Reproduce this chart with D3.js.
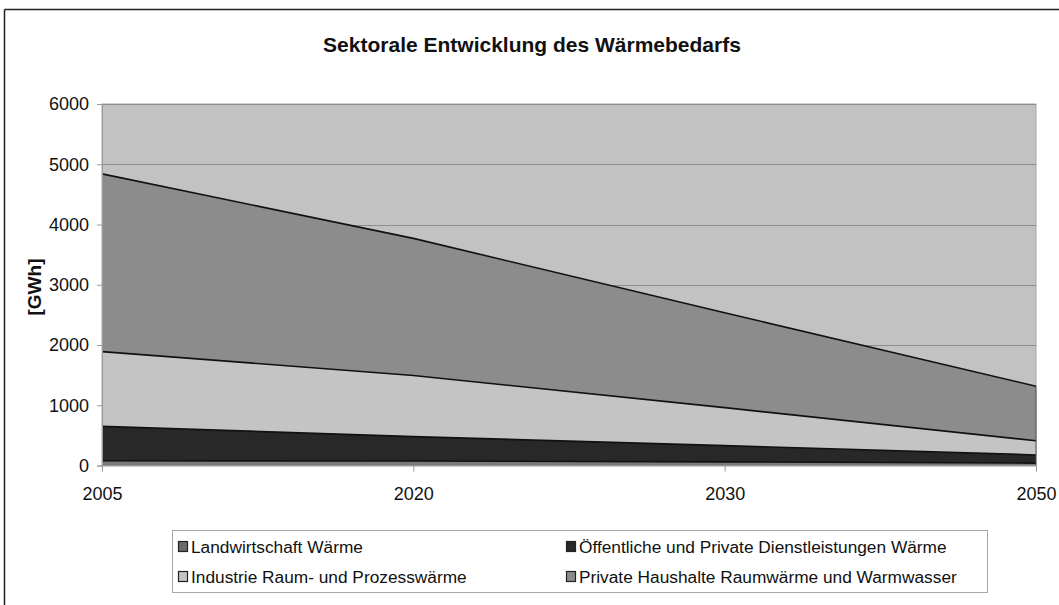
<!DOCTYPE html>
<html>
<head>
<meta charset="utf-8">
<script src="https://cdn.jsdelivr.net/npm/d3@7"></script>
<style>
  html, body { margin: 0; padding: 0; background: #fff; }
  svg { display: block; font-family: "Liberation Sans", Arial, sans-serif; }
</style>
</head>
<body>
<svg id="chart" width="1059" height="605"></svg>
<script>
// Years shown on the category axis
const years = ["2005", "2020", "2030", "2050"];
// Heat demand per sector in GWh (stacked bottom to top)
const landwirtschaft = [80, 75, 60, 40];
const dienstleistungen = [570, 405, 270, 135];
const industrie = [1240, 1015, 630, 235];
const haushalte = [2950, 2275, 1575, 905];
const yTicks = [0, 1000, 2000, 3000, 4000, 5000, 6000];

const seriesNames = [
  "Landwirtschaft Wärme",
  "Öffentliche und Private Dienstleistungen Wärme",
  "Industrie Raum- und Prozesswärme",
  "Private Haushalte Raumwärme und Warmwasser"
];
const fills = ["#7a7a7a", "#282828", "#c4c4c4", "#8c8c8c"];
const swatchFills = ["#6a6a6a", "#282828", "#c4c4c4", "#8c8c8c"];

const rows = years.map((yr, i) => ({
  year: yr,
  s0: landwirtschaft[i],
  s1: dienstleistungen[i],
  s2: industrie[i],
  s3: haushalte[i]
}));
const keys = ["s0", "s1", "s2", "s3"];
const stacked = d3.stack().keys(keys)(rows);

const svg = d3.select("#chart");

// outer frame (top and left edges)
svg.append("line").attr("x1", 4.5).attr("x2", 1059).attr("y1", 9.5).attr("y2", 9.5)
  .attr("stroke", "#222").attr("stroke-width", 1.5);
svg.append("line").attr("x1", 4.5).attr("x2", 4.5).attr("y1", 9.5).attr("y2", 605)
  .attr("stroke", "#222").attr("stroke-width", 1.5);

const plotLeft = 102, plotRight = 1036, plotTop = 104, plotBottom = 465.5;

const x = d3.scalePoint().domain(years).range([plotLeft, plotRight]);
const y = d3.scaleLinear().domain([0, 6000]).range([plotBottom, plotTop]);

// title
svg.append("text")
  .attr("x", 532).attr("y", 52)
  .attr("text-anchor", "middle")
  .attr("font-size", 21).attr("font-weight", "bold")
  .attr("fill", "#111")
  .text("Sektorale Entwicklung des Wärmebedarfs");

// plot background
svg.append("rect")
  .attr("x", plotLeft).attr("y", plotTop)
  .attr("width", plotRight - plotLeft).attr("height", plotBottom - plotTop)
  .attr("fill", "#c2c2c2")
  .attr("stroke", "#a8a8a8").attr("stroke-width", 1);

// gridlines
svg.append("g")
  .selectAll("line")
  .data(yTicks.filter(t => t > 0))
  .join("line")
  .attr("x1", plotLeft).attr("x2", plotRight)
  .attr("y1", d => Math.round(y(d)) + 0.5).attr("y2", d => Math.round(y(d)) + 0.5)
  .attr("stroke", "#8e8e8e").attr("stroke-width", 1);

// stacked areas
const area = d3.area()
  .x(d => x(d.data.year))
  .y0(d => y(d[0]))
  .y1(d => y(d[1]));
const topLine = d3.line()
  .x(d => x(d.data.year))
  .y(d => y(d[1]));

svg.append("g")
  .selectAll("path")
  .data(stacked)
  .join("path")
  .attr("d", area)
  .attr("fill", (d, i) => fills[i]);

svg.append("g")
  .selectAll("path")
  .data(stacked)
  .join("path")
  .attr("d", topLine)
  .attr("fill", "none")
  .attr("stroke", "#111")
  .attr("stroke-width", 1.6);

// right edge of the areas
svg.append("line")
  .attr("x1", plotRight).attr("x2", plotRight)
  .attr("y1", y(stacked[3][3][1])).attr("y2", plotBottom)
  .attr("stroke", "#555").attr("stroke-width", 1);

// y axis
const yAxis = d3.axisLeft(y).tickValues(yTicks).tickSize(5).tickPadding(8).tickFormat(d3.format("d"));
const gy = svg.append("g").attr("transform", `translate(${plotLeft},0)`).call(yAxis);
gy.select(".domain").attr("stroke", "#9a9a9a");
gy.selectAll(".tick line").attr("stroke", "#9a9a9a");
gy.selectAll(".tick text").attr("font-size", 18).attr("fill", "#111")
  .attr("font-family", "'Liberation Sans', Arial, sans-serif");

// x axis
const xAxis = d3.axisBottom(x).tickSize(6).tickPadding(16);
const gx = svg.append("g").attr("transform", `translate(0,${plotBottom})`).call(xAxis);
gx.select(".domain").attr("stroke", "#9a9a9a");
gx.selectAll(".tick line").attr("stroke", "#9a9a9a");
gx.selectAll(".tick text").attr("font-size", 18).attr("fill", "#111")
  .attr("font-family", "'Liberation Sans', Arial, sans-serif");

// y axis label
svg.append("text")
  .attr("transform", "translate(41,287) rotate(-90)")
  .attr("text-anchor", "middle")
  .attr("font-size", 19).attr("font-weight", "bold")
  .attr("fill", "#111")
  .text("[GWh]");

// legend
const legend = svg.append("g");
legend.append("rect")
  .attr("x", 172.5).attr("y", 530.5)
  .attr("width", 815).attr("height", 62)
  .attr("fill", "#fff").attr("stroke", "#a8a8a8");

const legendPos = [
  { x: 178, y: 547 },
  { x: 566, y: 547 },
  { x: 178, y: 577 },
  { x: 566, y: 577 }
];
seriesNames.forEach((name, i) => {
  const p = legendPos[i];
  legend.append("rect")
    .attr("x", p.x + 0.5).attr("y", p.y - 5.5)
    .attr("width", 9).attr("height", 10)
    .attr("fill", swatchFills[i])
    .attr("stroke", "#222").attr("stroke-width", 1.2);
  legend.append("text")
    .attr("x", p.x + 13).attr("y", p.y + 6)
    .attr("font-size", 17.3).attr("fill", "#111")
    .text(name);
});
</script>
</body>
</html>
